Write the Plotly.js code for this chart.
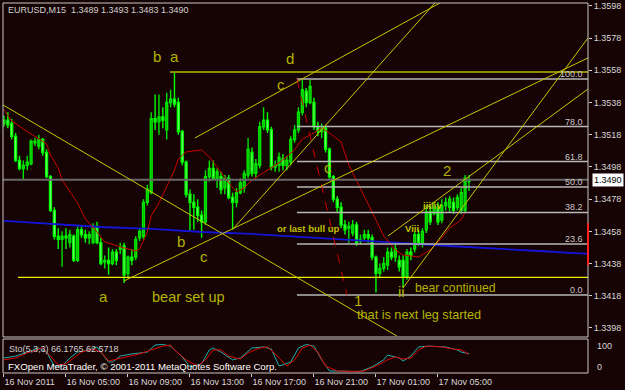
<!DOCTYPE html>
<html><head><meta charset="utf-8">
<script src="https://cdn.plot.ly/plotly-3.0.1.min.js"></script>
<style>html,body{margin:0;padding:0;background:#160303;}#chart{width:625px;height:390px;}</style>
</head><body><div id="chart"></div><script>
// ---- data: EURUSD M15 candles (bar 0 = 16 Nov 2011 01:00) ----
const openP = [1.3525,1.3527,1.3525,1.3517,1.3502,1.3497,1.3499,1.3500,1.3513,1.3511,
1.3515,1.3507,1.3492,1.3471,1.3455,1.3453,1.3455,1.3451,1.3455,1.3440,
1.3459,1.3456,1.3454,1.3451,1.3461,1.3451,1.3439,1.3440,1.3438,1.3445,
1.3447,1.3449,1.3432,1.3442,1.3442,1.3454,1.3455,1.3476,1.3482,1.3528,
1.3526,1.3529,1.3521,1.3538,1.3540,1.3538,1.3520,1.3501,1.3481,1.3476,
1.3473,1.3468,1.3464,1.3492,1.3497,1.3491,1.3492,1.3485,1.3491,1.3479,
1.3476,1.3482,1.3485,1.3493,1.3507,1.3494,1.3499,1.3523,1.3527,1.3521,
1.3498,1.3499,1.3503,1.3499,1.3501,1.3515,1.3521,1.3532,1.3545,1.3538,
1.3538,1.3523,1.3520,1.3522,1.3509,1.3492,1.3478,1.3473,1.3462,1.3460,
1.3457,1.3462,1.3452,1.3454,1.3456,1.3454,1.3442,1.3432,1.3435,1.3437,
1.3445,1.3442,1.3440,1.3440,1.3430,1.3445,1.3447,1.3456,1.3450,1.3459,
1.3470,1.3469,1.3473,1.3465,1.3474,1.3473,1.3476,1.3473,1.3471,1.3471,
1.3489];
const highP = [1.3530,1.3532,1.3528,1.3519,1.3505,1.3502,1.3505,1.3515,1.3516,1.3518,
1.3516,1.3509,1.3493,1.3473,1.3460,1.3458,1.3460,1.3459,1.3456,1.3461,
1.3461,1.3459,1.3458,1.3463,1.3464,1.3454,1.3443,1.3448,1.3447,1.3447,
1.3451,1.3451,1.3443,1.3447,1.3455,1.3460,1.3478,1.3487,1.3532,1.3543,
1.3543,1.3535,1.3544,1.3546,1.3557,1.3541,1.3521,1.3502,1.3484,1.3481,
1.3478,1.3471,1.3496,1.3502,1.3502,1.3497,1.3495,1.3493,1.3493,1.3482,
1.3485,1.3491,1.3496,1.3516,1.3510,1.3503,1.3526,1.3535,1.3532,1.3523,
1.3502,1.3507,1.3506,1.3505,1.3517,1.3524,1.3535,1.3552,1.3547,1.3552,
1.3541,1.3526,1.3525,1.3524,1.3510,1.3493,1.3480,1.3476,1.3465,1.3464,
1.3465,1.3464,1.3456,1.3459,1.3459,1.3456,1.3443,1.3438,1.3442,1.3448,
1.3448,1.3450,1.3443,1.3443,1.3447,1.3448,1.3458,1.3459,1.3460,1.3474,
1.3474,1.3476,1.3476,1.3478,1.3479,1.3480,1.3479,1.3481,1.3485,1.3493,
1.3493];
const lowP = [1.3523,1.3522,1.3515,1.3501,1.3496,1.3490,1.3496,1.3499,1.3511,1.3509,
1.3505,1.3491,1.3470,1.3453,1.3447,1.3436,1.3447,1.3448,1.3439,1.3439,
1.3454,1.3451,1.3450,1.3450,1.3450,1.3437,1.3435,1.3431,1.3437,1.3437,
1.3444,1.3426,1.3429,1.3437,1.3440,1.3452,1.3453,1.3474,1.3481,1.3521,
1.3518,1.3522,1.3515,1.3535,1.3535,1.3518,1.3499,1.3479,1.3458,1.3459,
1.3464,1.3454,1.3462,1.3489,1.3490,1.3485,1.3481,1.3481,1.3478,1.3459,
1.3473,1.3481,1.3482,1.3491,1.3492,1.3491,1.3497,1.3521,1.3519,1.3496,
1.3495,1.3495,1.3496,1.3496,1.3499,1.3513,1.3519,1.3530,1.3535,1.3537,
1.3521,1.3517,1.3516,1.3507,1.3490,1.3476,1.3470,1.3460,1.3456,1.3451,
1.3455,1.3449,1.3450,1.3452,1.3451,1.3440,1.3420,1.3429,1.3433,1.3434,
1.3440,1.3439,1.3433,1.3423,1.3428,1.3440,1.3445,1.3449,1.3448,1.3457,
1.3462,1.3468,1.3462,1.3463,1.3471,1.3470,1.3469,1.3471,1.3469,1.3470,
1.3483];
const closeP = [1.3527,1.3524,1.3517,1.3502,1.3497,1.3499,1.3501,1.3514,1.3514,1.3515,
1.3507,1.3492,1.3471,1.3455,1.3453,1.3455,1.3454,1.3456,1.3440,1.3459,
1.3456,1.3454,1.3456,1.3461,1.3451,1.3438,1.3440,1.3438,1.3445,1.3440,
1.3448,1.3431,1.3442,1.3440,1.3453,1.3458,1.3476,1.3484,1.3528,1.3526,
1.3529,1.3527,1.3538,1.3540,1.3537,1.3520,1.3501,1.3481,1.3476,1.3473,
1.3468,1.3464,1.3492,1.3497,1.3491,1.3495,1.3484,1.3491,1.3479,1.3476,
1.3482,1.3488,1.3494,1.3509,1.3494,1.3500,1.3523,1.3527,1.3521,1.3498,
1.3499,1.3504,1.3499,1.3502,1.3515,1.3521,1.3532,1.3546,1.3538,1.3548,
1.3523,1.3520,1.3522,1.3509,1.3492,1.3478,1.3473,1.3462,1.3459,1.3461,
1.3462,1.3451,1.3453,1.3456,1.3454,1.3442,1.3432,1.3435,1.3438,1.3445,
1.3442,1.3447,1.3436,1.3430,1.3445,1.3443,1.3456,1.3451,1.3458,1.3470,
1.3464,1.3473,1.3464,1.3474,1.3476,1.3478,1.3471,1.3479,1.3482,1.3491,
1.3490];

// red moving average (bar, price)
const maRedBars = [0,2,5,8,11,12,14,15,17,19,21,24,26,29,31,34,35,37,38,40,42,44,45,47,51,53,55,58,60,62,64,68,71,75,77,80,82,84,87,89,92,95,98,101,103,107,110,113,115,118,119];
const maRedVals = [1.35334,1.35266,1.35216,1.35172,1.35123,1.35054,1.34974,1.34899,1.34825,1.34756,
1.34657,1.34576,1.34514,1.34489,1.34477,1.34458,1.34471,1.34576,1.34676,1.34756,
1.34862,1.34961,1.35030,1.35073,1.35086,1.35042,1.34980,1.34881,1.34825,1.34850,
1.34899,1.34961,1.35005,1.35086,1.35154,1.35191,1.35222,1.35191,1.35135,1.34992,
1.34850,1.34700,1.34551,1.34465,1.34433,1.34421,1.34465,1.34539,1.34601,1.34651,1.34700];
// blue moving average (bar, price)
const maBlueBars = [0,12,25,38,51,64,76,89,102,115,128,138,151];
const maBlueVals = [1.34645,1.34626,1.34607,1.34595,1.34576,1.34564,1.34545,1.34527,1.34508,1.34489,1.34474,1.34458,1.34440];

// stochastic (5,3,3)
const stoKBars = [0,3,6,9,11,13,15,17,19,21,24,27,28,30,33,37,39,41,43,46,48,51,53,54,56,59,61,64,67,69,71,74,76,78,80,82,84,88,92,95,98,99,102,103,105,107,110,114,117,118,120];
const stoKVals = [50,57,72,87,72,20,20,50,72,76,91,35,35,57,65,72,98,100,94,54,17,28,80,87,72,43,50,87,91,83,20,35,87,100,94,43,2,0,0,17,43,61,50,39,57,91,94,91,80,72,66.18];
const stoDBars = [0,3,6,10,12,14,16,18,20,23,25,27,29,32,35,38,41,43,44,47,50,52,54,56,58,61,63,66,68,70,73,75,77,79,81,83,86,90,93,96,99,101,103,105,107,109,113,116,118,120];
const stoDVals = [43,50,69,87,57,24,28,50,72,83,72,39,46,57,65,80,94,98,80,43,20,43,80,80,57,46,69,87,91,65,20,43,87,98,72,20,2,0,2,20,43,54,46,50,80,94,91,83,80,62.57];

// fibonacci retracement
const fibLevels = [0, 23.6, 38.2, 50.0, 61.8, 78.0, 100.0];
const fibLow = 1.34185, fibHigh = 1.35526;
const fibStartBar = 75.6, fibEndBar = 88.5;

// drawn trend lines: [bar0, price0, bar1, price1]
const trendLines = [
  [-0.25, 1.35365, 101.4, 1.33930],
  [30.97, 1.34272, 150.72, 1.35657],
  [59.1, 1.34595, 111.2, 1.35998],
  [49.3, 1.35160, 112.5, 1.35998],
  [102.97, 1.34229, 150.72, 1.35781],
  [99.1, 1.34551, 150.72, 1.35464]
];
const levelHigh = [42.85, 150.72, 1.35570];
const levelLow = [3.6, 150.72, 1.34294];

// wave labels: [text, bar, price]
const waveLabels = [
  ['b', 39.5, 1.35663], ['a', 43.9, 1.35663], ['d', 73.8, 1.35651], ['c', 71.5, 1.35495],
  ['b', 45.7, 1.34514], ['c', 51.6, 1.34427], ['a', 25.8, 1.34173], ['c', 83.6, 1.34974],
  ['1', 91.4, 1.34148], ['ii', 102.5, 1.34204], ['2', 114.3, 1.34955]
];
const noteLabels = [
  ['bear set up', 47.6, 1.34173, 14.5],
  ['that is next leg started', 107.2, 1.34061, 12.7],
  ['bear continued', 116.6, 1.34229, 12.2]
];
const smallLabels = [
  ['or last bull up', 78.5, 1.34595],
  ['Viii', 105.4, 1.34595],
  ['iii/iv', 110.5, 1.34738]
];

const priceTicks = [1.3398,1.3418,1.3438,1.3458,1.3478,1.3498,1.3518,1.3538,1.3558,1.3578,1.3598];
const timeTickBars = [0,16,32,48,64,80,96,112];
const timeTickLabels = ['16 Nov 2011','16 Nov 05:00','16 Nov 09:00','16 Nov 13:00','16 Nov 17:00','16 Nov 21:00','17 Nov 01:00','17 Nov 05:00'];
const lastPrice = 1.3490;
const headerText = 'EURUSD,M15\u00a0 1.3489 1.3493 1.3483 1.3490';
const stoText = 'Sto(5,3,3) 66.1765 62.5718';
const copyText = 'FXOpen MetaTrader, \u00a9 2001-2011 MetaQuotes Software Corp.';

// ---- build ----
const FONT = 'Liberation Sans, Arial, sans-serif';
const OLIVE = '#b4b400';
const bars = openP.map((_, i) => i);

const traces = [
  {type:'scatter', mode:'lines', x:maBlueBars, y:maBlueVals, xaxis:'x', yaxis:'y',
   line:{color:'#1414d8', width:1.8}, hoverinfo:'skip'},
  {type:'candlestick', x:bars, open:openP, high:highP, low:lowP, close:closeP, xaxis:'x', yaxis:'y',
   increasing:{line:{color:'#00e400', width:1.4}, fillcolor:'#00a800'},
   decreasing:{line:{color:'#00ff00', width:1.4}, fillcolor:'#c8ffc8'},
   whiskerwidth:0, hoverinfo:'skip'},
  {type:'scatter', mode:'lines', x:maRedBars, y:maRedVals, xaxis:'x', yaxis:'y',
   line:{color:'#c80000', width:1}, hoverinfo:'skip'},
  {type:'scatter', mode:'lines', x:stoKBars, y:stoKVals, xaxis:'x', yaxis:'y2',
   line:{color:'#20b0b0', width:1}, hoverinfo:'skip'},
  {type:'scatter', mode:'lines', x:stoDBars, y:stoDVals, xaxis:'x', yaxis:'y2',
   line:{color:'#e00000', width:1}, hoverinfo:'skip'}
];

const shapes = [];
shapes.push({type:'line', xref:'paper', yref:'y', x0:0, x1:1, y0:lastPrice, y1:lastPrice, line:{color:'#686868', width:2}});
fibLevels.forEach(l => {
  const p = fibLow + l/100*(fibHigh - fibLow);
  shapes.push({type:'line', xref:'x', yref:'y', x0:fibStartBar, x1:150.72, y0:p, y1:p, line:{color:'#b8b8b8', width:1.5}});
});
shapes.push({type:'line', xref:'x', yref:'y', x0:fibStartBar, y0:fibHigh, x1:fibEndBar, y1:fibLow, line:{color:'#d00000', width:1, dash:'dash'}});
shapes.push({type:'line', xref:'x', yref:'y', x0:levelHigh[0], x1:levelHigh[1], y0:levelHigh[2], y1:levelHigh[2], line:{color:'#8c8c00', width:2}});
shapes.push({type:'line', xref:'x', yref:'y', x0:levelLow[0], x1:levelLow[1], y0:levelLow[2], y1:levelLow[2], line:{color:'#f0f000', width:1.3}});
trendLines.forEach(t => shapes.push({type:'line', xref:'x', yref:'y', x0:t[0], y0:t[1], x1:t[2], y1:t[3], line:{color:'#c8c800', width:1}}));
shapes.push({type:'rect', xref:'paper', yref:'paper', x0:0, x1:1, y0:0.0973, y1:1, line:{color:'#c8c8c8', width:1}});
shapes.push({type:'rect', xref:'paper', yref:'paper', x0:0, x1:1, y0:0, y1:0.0919, line:{color:'#c8c8c8', width:1}});
shapes.push({type:'line', xref:'paper', yref:'y', x0:1, x1:1, y0:1.3463, y1:1.3437, line:{color:'#ff2020', width:2}});

const ann = [];
waveLabels.forEach(w => ann.push({text:w[0], x:w[1], y:w[2], xref:'x', yref:'y', showarrow:false,
  font:{family:FONT, size:15, color:OLIVE}, xanchor:'center', yanchor:'middle'}));
noteLabels.forEach(w => ann.push({text:w[0], x:w[1], y:w[2], xref:'x', yref:'y', showarrow:false,
  font:{family:FONT, size:w[3], color:OLIVE}, xanchor:'center', yanchor:'middle'}));
smallLabels.forEach(w => ann.push({text:'<b>'+w[0]+'</b>', x:w[1], y:w[2], xref:'x', yref:'y', showarrow:false,
  font:{family:FONT, size:9.5, color:'#c0c000'}, xanchor:'center', yanchor:'middle'}));
fibLevels.forEach(l => {
  const p = fibLow + l/100*(fibHigh - fibLow);
  ann.push({text:l.toFixed(1), x:0.995, xref:'paper', y:p, yref:'y', showarrow:false, xanchor:'right', yanchor:'bottom',
    yshift:-2, font:{family:FONT, size:9, color:'#c8c8c8'}});
});
ann.push({text:lastPrice.toFixed(4), x:1.007, xref:'paper', y:lastPrice, yref:'y', showarrow:false, xanchor:'left', yanchor:'middle',
  bgcolor:'#ffffff', borderpad:1, font:{family:FONT, size:9, color:'#000000'}});
ann.push({text:headerText, x:0.005, xref:'paper', y:0.981, yref:'paper', showarrow:false, xanchor:'left', yanchor:'middle',
  font:{family:FONT, size:9, color:'#d0d0d0'}});
ann.push({text:stoText, x:0.0068, xref:'paper', y:0.0649, yref:'paper', showarrow:false, xanchor:'left', yanchor:'middle',
  font:{family:FONT, size:9, color:'#d0d0d0'}});
ann.push({text:copyText, x:0.005, xref:'paper', y:0.0189, yref:'paper', showarrow:false, xanchor:'left', yanchor:'middle',
  font:{family:FONT, size:9.6, color:'#ffffff'}});
ann.push({text:'100', x:1.012, xref:'paper', y:0.073, yref:'paper', showarrow:false, xanchor:'left', yanchor:'middle',
  font:{family:FONT, size:9, color:'#d8d8d8'}});
ann.push({text:'0', x:1.012, xref:'paper', y:0.0162, yref:'paper', showarrow:false, xanchor:'left', yanchor:'middle',
  font:{family:FONT, size:9, color:'#d8d8d8'}});

const layout = {
  width:625, height:390,
  margin:{l:3, r:37, t:3, b:17, pad:0},
  paper_bgcolor:'#160303', plot_bgcolor:'#160303',
  showlegend:false,
  font:{family:FONT, color:'#d8d8d8', size:9},
  xaxis:{range:[-0.25, 150.72], anchor:'y2', showgrid:false, zeroline:false, showline:false,
    tickmode:'array', tickvals:timeTickBars, ticktext:timeTickLabels, ticks:'outside', ticklen:3,
    tickcolor:'#d0d0d0', tickfont:{family:FONT, size:9, color:'#d8d8d8'}, tickangle:0,
    ticklabelposition:'outside right', automargin:false,
    rangeslider:{visible:false}, fixedrange:true},
  yaxis:{domain:[0.0973, 1], range:[1.33924, 1.35998], side:'right', anchor:'x', showgrid:false, zeroline:false,
    tickmode:'array', tickvals:priceTicks, ticktext:priceTicks.map(v => v.toFixed(4)), ticks:'outside', ticklen:3,
    tickcolor:'#d0d0d0', tickfont:{family:FONT, size:9, color:'#d8d8d8'}, fixedrange:true, automargin:false},
  yaxis2:{domain:[0, 0.0919], range:[-5.6, 120.4], anchor:'x', showgrid:false, zeroline:false, showticklabels:false, ticks:'', fixedrange:true},
  shapes:shapes,
  annotations:ann
};

Plotly.newPlot('chart', traces, layout, {displayModeBar:false, staticPlot:true});
</script></body></html>
